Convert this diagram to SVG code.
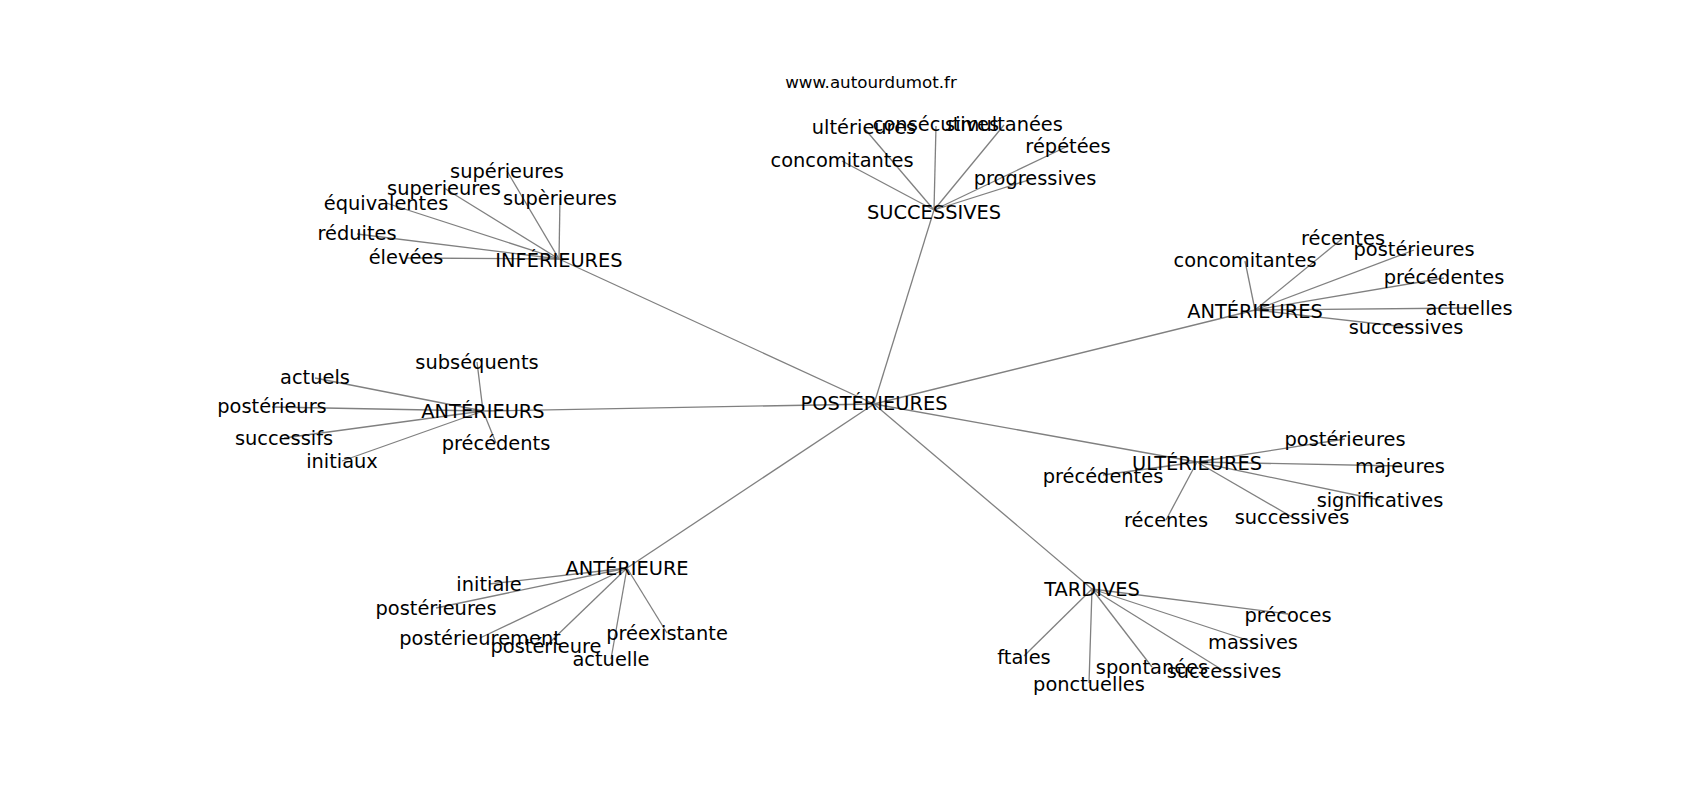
<svg xmlns="http://www.w3.org/2000/svg" width="1700" height="800" viewBox="0 0 1700 800">
<style>
.e{stroke:#808080;stroke-width:1.3;fill:none}
text{font-family:"DejaVu Sans","Liberation Sans",sans-serif;font-size:19.4px;fill:#000;text-anchor:middle}
.t{font-size:16.7px}
</style>
<rect width="1700" height="800" fill="#fff"/>
<text class="t" x="871" y="88">www.autourdumot.fr</text>
<g id="edges">
<line class="e" x1="874" y1="404" x2="559" y2="259"/>
<line class="e" x1="874" y1="404" x2="934" y2="210"/>
<line class="e" x1="874" y1="404" x2="1255" y2="310"/>
<line class="e" x1="874" y1="404" x2="483" y2="411"/>
<line class="e" x1="874" y1="404" x2="1197" y2="462"/>
<line class="e" x1="874" y1="404" x2="627" y2="568"/>
<line class="e" x1="874" y1="404" x2="1092" y2="589"/>
<line class="e" x1="559" y1="259" x2="507" y2="171"/>
<line class="e" x1="559" y1="259" x2="444" y2="188"/>
<line class="e" x1="559" y1="259" x2="386" y2="203"/>
<line class="e" x1="559" y1="259" x2="560" y2="198"/>
<line class="e" x1="559" y1="259" x2="357" y2="234"/>
<line class="e" x1="559" y1="259" x2="406" y2="258"/>
<line class="e" x1="934" y1="210" x2="864" y2="128"/>
<line class="e" x1="934" y1="210" x2="936" y2="126"/>
<line class="e" x1="934" y1="210" x2="1004" y2="125"/>
<line class="e" x1="934" y1="210" x2="1068" y2="146"/>
<line class="e" x1="934" y1="210" x2="842" y2="161"/>
<line class="e" x1="934" y1="210" x2="1035" y2="178"/>
<line class="e" x1="1255" y1="310" x2="1343" y2="238"/>
<line class="e" x1="1255" y1="310" x2="1414" y2="250"/>
<line class="e" x1="1255" y1="310" x2="1245" y2="261"/>
<line class="e" x1="1255" y1="310" x2="1444" y2="278"/>
<line class="e" x1="1255" y1="310" x2="1469" y2="308"/>
<line class="e" x1="1255" y1="310" x2="1406" y2="327"/>
<line class="e" x1="483" y1="411" x2="477" y2="362"/>
<line class="e" x1="483" y1="411" x2="315" y2="378"/>
<line class="e" x1="483" y1="411" x2="272" y2="407"/>
<line class="e" x1="483" y1="411" x2="284" y2="438"/>
<line class="e" x1="483" y1="411" x2="342" y2="461"/>
<line class="e" x1="483" y1="411" x2="496" y2="443"/>
<line class="e" x1="1197" y1="462" x2="1345" y2="439"/>
<line class="e" x1="1197" y1="462" x2="1400" y2="466"/>
<line class="e" x1="1197" y1="462" x2="1103" y2="475"/>
<line class="e" x1="1197" y1="462" x2="1380" y2="500"/>
<line class="e" x1="1197" y1="462" x2="1166" y2="520"/>
<line class="e" x1="1197" y1="462" x2="1292" y2="517"/>
<line class="e" x1="627" y1="568" x2="489" y2="584"/>
<line class="e" x1="627" y1="568" x2="436" y2="608"/>
<line class="e" x1="627" y1="568" x2="480" y2="638"/>
<line class="e" x1="627" y1="568" x2="546" y2="646"/>
<line class="e" x1="627" y1="568" x2="667" y2="633"/>
<line class="e" x1="627" y1="568" x2="611" y2="659"/>
<line class="e" x1="1092" y1="589" x2="1288" y2="614"/>
<line class="e" x1="1092" y1="589" x2="1253" y2="642"/>
<line class="e" x1="1092" y1="589" x2="1024" y2="656"/>
<line class="e" x1="1092" y1="589" x2="1152" y2="667"/>
<line class="e" x1="1092" y1="589" x2="1224" y2="671"/>
<line class="e" x1="1092" y1="589" x2="1089" y2="683"/>
</g>
<g id="n-posterieures"><text x="874" y="410">POSTÉRIEURES</text></g>
<g id="n-inferieures"><text x="559" y="267">INFÉRIEURES</text></g>
<g id="n-successives"><text x="934" y="219">SUCCESSIVES</text></g>
<g id="n-anterieures"><text x="1255" y="318">ANTÉRIEURES</text></g>
<g id="n-anterieurs"><text x="483" y="418">ANTÉRIEURS</text></g>
<g id="n-ulterieures"><text x="1197" y="470">ULTÉRIEURES</text></g>
<g id="n-anterieure"><text x="627" y="575">ANTÉRIEURE</text></g>
<g id="n-tardives"><text x="1092" y="596">TARDIVES</text></g>
<g id="n-inf-1"><text x="507" y="178">supérieures</text></g>
<g id="n-inf-2"><text x="444" y="195">superieures</text></g>
<g id="n-inf-3"><text x="386" y="210">équivalentes</text></g>
<g id="n-inf-4"><text x="560" y="205">supèrieures</text></g>
<g id="n-inf-5"><text x="357" y="240">réduites</text></g>
<g id="n-inf-6"><text x="406" y="264">élevées</text></g>
<g id="n-suc-1"><text x="864" y="134">ultérieures</text></g>
<g id="n-suc-2"><text x="936" y="131">consécutives</text></g>
<g id="n-suc-3"><text x="1004" y="131">simultanées</text></g>
<g id="n-suc-4"><text x="1068" y="153">répétées</text></g>
<g id="n-suc-5"><text x="842" y="167">concomitantes</text></g>
<g id="n-suc-6"><text x="1035" y="185">progressives</text></g>
<g id="n-antr-1"><text x="1343" y="245">récentes</text></g>
<g id="n-antr-2"><text x="1414" y="256">postérieures</text></g>
<g id="n-antr-3"><text x="1245" y="267">concomitantes</text></g>
<g id="n-antr-4"><text x="1444" y="284">précédentes</text></g>
<g id="n-antr-5"><text x="1469" y="315">actuelles</text></g>
<g id="n-antr-6"><text x="1406" y="334">successives</text></g>
<g id="n-antl-1"><text x="477" y="369">subséquents</text></g>
<g id="n-antl-2"><text x="315" y="384">actuels</text></g>
<g id="n-antl-3"><text x="272" y="413">postérieurs</text></g>
<g id="n-antl-4"><text x="284" y="445">successifs</text></g>
<g id="n-antl-5"><text x="342" y="468">initiaux</text></g>
<g id="n-antl-6"><text x="496" y="450">précédents</text></g>
<g id="n-ult-1"><text x="1345" y="446">postérieures</text></g>
<g id="n-ult-2"><text x="1400" y="473">majeures</text></g>
<g id="n-ult-3"><text x="1103" y="483">précédentes</text></g>
<g id="n-ult-4"><text x="1380" y="507">significatives</text></g>
<g id="n-ult-5"><text x="1166" y="527">récentes</text></g>
<g id="n-ult-6"><text x="1292" y="524">successives</text></g>
<g id="n-ante-1"><text x="489" y="591">initiale</text></g>
<g id="n-ante-2"><text x="436" y="615">postérieures</text></g>
<g id="n-ante-3"><text x="480" y="645">postérieurement</text></g>
<g id="n-ante-4"><text x="546" y="653">postérieure</text></g>
<g id="n-ante-5"><text x="667" y="640">préexistante</text></g>
<g id="n-ante-6"><text x="611" y="666">actuelle</text></g>
<g id="n-tar-1"><text x="1288" y="622">précoces</text></g>
<g id="n-tar-2"><text x="1253" y="649">massives</text></g>
<g id="n-tar-3"><text x="1024" y="664">ftales</text></g>
<g id="n-tar-4"><text x="1152" y="674">spontanées</text></g>
<g id="n-tar-5"><text x="1224" y="678">successives</text></g>
<g id="n-tar-6"><text x="1089" y="691">ponctuelles</text></g>
</svg>
